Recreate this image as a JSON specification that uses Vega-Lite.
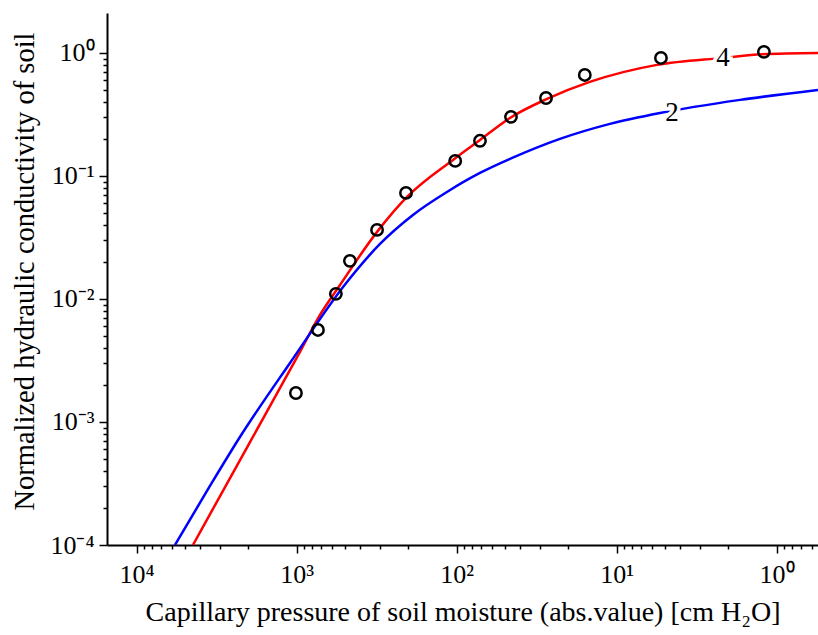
{
  "$schema": "https://vega.github.io/schema/vega-lite/v6.json",
  "width": 711,
  "height": 532,
  "autosize": {"type": "none"},
  "padding": {"left": 107, "top": 13, "right": 0, "bottom": 90},
  "background": "white",
  "config": {
    "view": {"stroke": null},
    "font": "'Liberation Serif', 'Times New Roman', Times, serif",
    "axis": {
      "domainColor": "black",
      "domainWidth": 2,
      "tickColor": "black",
      "tickWidth": 1.5,
      "grid": false,
      "labelFont": "'Liberation Serif', 'Times New Roman', Times, serif",
      "labelFontSize": 26,
      "labelColor": "black",
      "titleFont": "'Liberation Serif', 'Times New Roman', Times, serif",
      "titleFontSize": 28,
      "titleFontWeight": "normal",
      "titleColor": "black",
      "labelOverlap": false,
      "labelBound": false,
      "labelFlush": false
    }
  },
  "datasets": {
    "curves": [
      {"curve": "4", "p": 4442, "k": 0.0001},
      {"curve": "4", "p": 1954, "k": 0.000687},
      {"curve": "4", "p": 952, "k": 0.00371},
      {"curve": "4", "p": 714, "k": 0.00741},
      {"curve": "4", "p": 535, "k": 0.013},
      {"curve": "4", "p": 314, "k": 0.0351},
      {"curve": "4", "p": 204, "k": 0.0675},
      {"curve": "4", "p": 105.3, "k": 0.135},
      {"curve": "4", "p": 71.4, "k": 0.196},
      {"curve": "4", "p": 46.4, "k": 0.296},
      {"curve": "4", "p": 27.2, "k": 0.423},
      {"curve": "4", "p": 14.7, "k": 0.581},
      {"curve": "4", "p": 5.59, "k": 0.799},
      {"curve": "4", "p": 2.16, "k": 0.911},
      {"curve": "4", "p": 1.22, "k": 0.975},
      {"curve": "4", "p": 0.551, "k": 0.997},
      {"curve": "2", "p": 5754, "k": 0.0001},
      {"curve": "2", "p": 3478, "k": 0.000302},
      {"curve": "2", "p": 2259, "k": 0.000755},
      {"curve": "2", "p": 1099, "k": 0.00302},
      {"curve": "2", "p": 484, "k": 0.01374},
      {"curve": "2", "p": 301, "k": 0.028},
      {"curve": "2", "p": 187.3, "k": 0.0482},
      {"curve": "2", "p": 114.8, "k": 0.0741},
      {"curve": "2", "p": 71.4, "k": 0.1057},
      {"curve": "2", "p": 46.4, "k": 0.1374},
      {"curve": "2", "p": 22.6, "k": 0.2},
      {"curve": "2", "p": 11.0, "k": 0.265},
      {"curve": "2", "p": 5.35, "k": 0.325},
      {"curve": "2", "p": 1.69, "k": 0.415},
      {"curve": "2", "p": 0.551, "k": 0.5}
    ],
    "points": [
      {"p": 1009, "k": 0.00172},
      {"p": 735, "k": 0.0056},
      {"p": 568, "k": 0.011},
      {"p": 464, "k": 0.0204},
      {"p": 314, "k": 0.0364},
      {"p": 207, "k": 0.0728},
      {"p": 102, "k": 0.1325},
      {"p": 71.4, "k": 0.193},
      {"p": 45.7, "k": 0.302},
      {"p": 27.6, "k": 0.43},
      {"p": 15.8, "k": 0.662},
      {"p": 5.28, "k": 0.91},
      {"p": 1.2, "k": 1.02}
    ],
    "labels": [
      {"p": 2.16, "k": 0.911, "t": "4"},
      {"p": 4.51, "k": 0.325, "t": "2"}
    ]
  },
  "encoding": {
    "x": {
      "field": "p",
      "type": "quantitative",
      "scale": {"type": "log", "domain": [0.551, 15300], "reverse": true, "nice": false},
      "axis": {
        "title": "Capillary pressure of soil moisture (abs.value) [cm H₂O]",
        "titlePadding": 11,
        "labelPadding": 8,
        "values": [0.6, 0.7, 0.8, 0.9, 1, 2, 3, 4, 5, 6, 7, 8, 9, 10, 20, 30, 40, 50, 60, 70, 80, 90, 100, 200, 300, 400, 500, 600, 700, 800, 900, 1000, 2000, 3000, 4000, 5000, 6000, 7000, 8000, 9000, 10000],
        "labelExpr": "datum.value===10000?'10⁴':datum.value===1000?'10³':datum.value===100?'10²':datum.value===10?'10¹':datum.value===1?'10⁰':''",
        "tickSize": {"condition": {"test": "abs(log(datum.value)/LN10 - round(log(datum.value)/LN10)) < 0.000001", "value": 8}, "value": 4}
      }
    },
    "y": {
      "field": "k",
      "type": "quantitative",
      "scale": {"type": "log", "domain": [0.0001, 2.11], "nice": false},
      "axis": {
        "title": "Normalized hydraulic conductivity of soil",
        "titleFontSize": 28.5,
        "titleY": 258,
        "titlePadding": 10,
        "labelPadding": 5,
        "values": [0.0001, 0.0002, 0.0003, 0.0004, 0.0005, 0.0006, 0.0007, 0.0008, 0.0009, 0.001, 0.002, 0.003, 0.004, 0.005, 0.006, 0.007, 0.008, 0.009, 0.01, 0.02, 0.03, 0.04, 0.05, 0.06, 0.07, 0.08, 0.09, 0.1, 0.2, 0.3, 0.4, 0.5, 0.6, 0.7, 0.8, 0.9, 1],
        "labelExpr": "datum.value===1?'10⁰':datum.value===0.1?'10⁻¹':datum.value===0.01?'10⁻²':datum.value===0.001?'10⁻³':datum.value===0.0001?'10⁻⁴':''",
        "tickSize": {"condition": {"test": "abs(log(datum.value)/LN10 - round(log(datum.value)/LN10)) < 0.000001", "value": 8}, "value": 4}
      }
    }
  },
  "layer": [
    {
      "data": {"name": "curves"},
      "mark": {"type": "line", "strokeWidth": 2.5, "clip": true, "interpolate": "monotone"},
      "encoding": {
        "color": {"field": "curve", "type": "nominal", "scale": {"domain": ["2", "4"], "range": ["#0000ff", "#ff0000"]}, "legend": null}
      }
    },
    {
      "data": {"name": "labels"},
      "mark": {"type": "text", "fontSize": 27, "font": "'Liberation Serif', 'Times New Roman', Times, serif", "stroke": "white", "strokeWidth": 7, "fill": "white", "align": "center", "baseline": "middle"},
      "encoding": {"text": {"field": "t"}}
    },
    {
      "data": {"name": "labels"},
      "mark": {"type": "text", "fontSize": 27, "font": "'Liberation Serif', 'Times New Roman', Times, serif", "color": "black", "align": "center", "baseline": "middle"},
      "encoding": {"text": {"field": "t"}}
    },
    {
      "data": {"name": "points"},
      "mark": {"type": "point", "shape": "circle", "size": 130, "filled": false, "stroke": "black", "strokeWidth": 2.5, "opacity": 1}
    }
  ]
}
